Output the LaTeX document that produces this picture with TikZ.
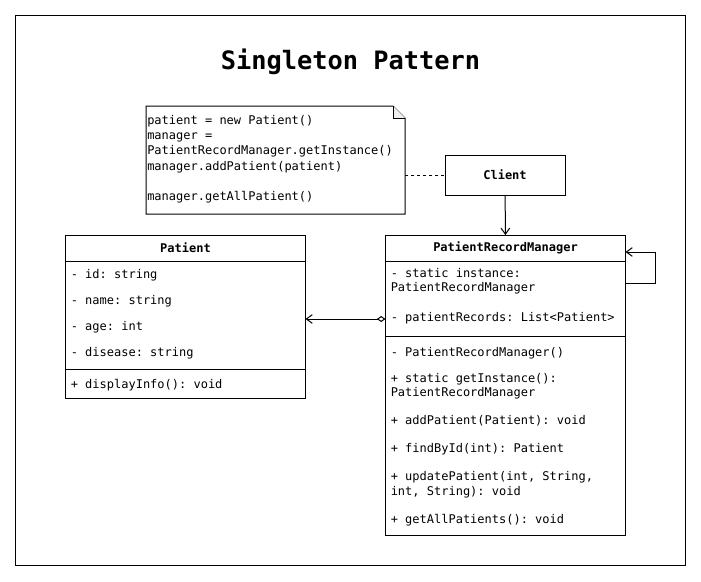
\documentclass[tikz,border=0pt]{standalone}
\usepackage{fontspec}
\setmonofont{DejaVu Sans Mono}
\usetikzlibrary{positioning,calc,arrows.meta}
\newcommand{\monoGap}{\spaceskip=0.602em\xspaceskip=0.602em\relax}
\tikzset{%
  frameBox/.style={%
    rectangle,
    draw=black,
    line width=0.75pt,
    minimum width=502.5pt,
    minimum height=412.5pt,
    inner sep=0pt,
    anchor=north west
  },
  classBox/.style={%
    rectangle,
    draw=black,
    line width=0.75pt,
    minimum width=180pt,
    inner sep=0pt,
    outer sep=0pt,
    anchor=north west,
    font=\ttfamily\bfseries\fontsize{9}{11}\selectfont
  },
  noteBox/.style={%
    rectangle,
    minimum width=194.25pt,
    minimum height=81pt,
    inner sep=0pt,
    outer sep=0pt,
    anchor=north west
  },
  titleText/.style={%
    font=\ttfamily\bfseries\fontsize{19}{23}\selectfont,
    inner sep=0pt
  },
  memberText/.style={%
    font=\ttfamily\fontsize{9}{10.75}\selectfont,
    text width=178pt,
    inner sep=0pt,
    anchor=base west
  },
  noteText/.style={%
    memberText,
    font=\ttfamily\fontsize{9}{11.4}\selectfont,
    text width=192pt
  },
  thinLine/.style={%
    line width=0.75pt,
    draw=black
  },
  openArrow/.style={%
    -{Straight Barb[length=4.5pt,width=6.5pt]},
    thinLine
  },
  aggLine/.style={%
    {Diamond[open,length=6.5pt,width=4.5pt]}-{Straight Barb[length=4.5pt,width=6.5pt]},
    thinLine
  },
  dashLine/.style={%
    thinLine,
    dash pattern=on 2.25pt off 2.25pt
  }
}
\begin{document}
\begin{tikzpicture}[x=0.75pt,y=-0.75pt]
  \fill[white] (0,0) rectangle (701,582);
  \useasboundingbox (0,0) rectangle (701,582);
  \node[frameBox] (frame) at (15,15) {};
  \node[titleText] (title) at (350.5,62) {Singleton Pattern};

  % note
  \node[noteBox] (note) at (146,106) {};
  \draw[thinLine] (note.north west) -- ([xshift=-9pt]note.north east) -- ([yshift=-9pt]note.north east) -- (note.south east) -- (note.south west) -- cycle;
  \draw[thinLine, fill=gray!12] ([xshift=-9pt]note.north east) -- ([xshift=-9pt,yshift=-9pt]note.north east) -- ([yshift=-9pt]note.north east);
  \node[noteText] (noteLines) at (147,124.5) {\monoGap patient = new Patient()\\manager =\\PatientRecordManager.getInstance()\\manager.addPatient(patient)\\[11.4pt]manager.getAllPatient()};

  % client
  \node[classBox, minimum width=90pt, minimum height=30pt] (client) at (445,155) {Client};

  % Patient
  \node[classBox, minimum height=19.5pt] (patientHead) at (65.5,235) {Patient};
  \node[classBox, minimum height=81pt, below=0pt of patientHead] (patientAttr) {};
  \node[classBox, minimum height=21.75pt, below=0pt of patientAttr] (patientOps) {};
  \node[memberText] (patientAttrText) at (70.5,278) {\monoGap - id: string\\[8.75pt]- name: string\\[8.75pt]- age: int\\[8.75pt]- disease: string};
  \node[memberText] (patientOpsText) at (70.5,388.5) {\monoGap + displayInfo(): void};

  % PatientRecordManager
  \node[classBox, minimum height=19.5pt] (prmHead) at (385.5,235) {PatientRecordManager};
  \node[classBox, minimum height=56.25pt, below=0pt of prmHead] (prmAttr) {};
  \node[classBox, minimum height=149.25pt, below=0pt of prmAttr] (prmOps) {};
  \node[memberText] (prmAttrText) at (390.5,277) {\monoGap - static instance:\\PatientRecordManager\\[11.75pt]- patientRecords: List<Patient>};
  \node[memberText] (prmOpsText) at (390.5,356.5) {\monoGap - PatientRecordManager()\\[8.75pt]+ static getInstance():\\PatientRecordManager\\[10.25pt]+ addPatient(Patient): void\\[10.25pt]+ findById(int): Patient\\[10.25pt]+ updatePatient(int, String,\\int, String): void\\[10.25pt]+ getAllPatients(): void};

  % connectors
  \draw[dashLine] (note.east |- client.west) -- (client.west);
  \draw[openArrow] (client) -- (prmHead);
  \draw[aggLine] ($(prmAttr.north west)+(0,58)$) -- ($(patientAttr.north east)+(0,58)$);
  \draw[openArrow] ($(prmAttr.north east)+(0,22)$) -- ++(30,0) |- ($(prmHead.north east)+(0,17)$);
\end{tikzpicture}
\end{document}
